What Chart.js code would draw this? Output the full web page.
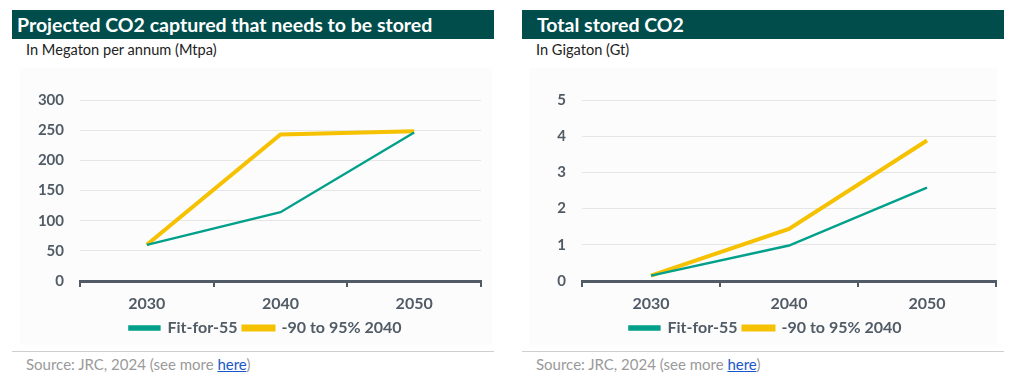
<!DOCTYPE html>
<html>
<head>
<meta charset="utf-8">
<script src="https://cdn.jsdelivr.net/npm/chart.js@4/dist/chart.umd.min.js"></script>
<style>
  html, body { margin: 0; padding: 0; background: #ffffff; width: 1019px; height: 383px; overflow: hidden; font-family: 'Lato', sans-serif; }
  .hdr { position: absolute; top: 10px; height: 29px; background: #004d4c; color: #fff; font-weight: 700; font-size: 19.5px; line-height: 29px; box-sizing: border-box; white-space: nowrap; }
  .sub { position: absolute; top: 41px; font-size: 14.6px; color: #222; white-space: nowrap; }
  .box { position: absolute; top: 68px; height: 277px; background: #fcfcfc; }
  .sep { position: absolute; top: 351px; height: 1px; background: #cfcfcf; }
  .src { position: absolute; top: 355px; font-size: 15px; color: #9a9a9a; white-space: nowrap; }
  .src a { color: #1a56c8; text-decoration: underline; }
</style>
</head>
<body>
<div class="hdr" style="left:12px;width:482px;padding-left:5px;">Projected CO2 captured that needs to be stored</div>
<div class="sub" style="left:26px;">In Megaton per annum (Mtpa)</div>
<div class="box" style="left:20px;width:472px;"><canvas id="c1"></canvas></div>
<div class="sep" style="left:12px;width:482px;"></div>
<div class="src" style="left:26px;">Source: JRC, 2024 (see more <a href="#">here</a>)</div>

<div class="hdr" style="left:522px;width:482px;padding-left:15px;">Total stored CO2</div>
<div class="sub" style="left:536px;">In Gigaton (Gt)</div>
<div class="box" style="left:529px;width:468px;"><canvas id="c2"></canvas></div>
<div class="sep" style="left:522px;width:482px;"></div>
<div class="src" style="left:536px;">Source: JRC, 2024 (see more <a href="#">here</a>)</div>

<script>
const years = ['2030', '2040', '2050'];
const seriesNames = ['Fit-for-55', '-90 to 95% 2040'];
const capturedFitFor55 = [60, 114, 246];
const captured90to95 = [60, 243, 248];
const storedFitFor55 = [0.15, 0.98, 2.58];
const stored90to95 = [0.15, 1.44, 3.88];
const capturedTicks = [0, 50, 100, 150, 200, 250, 300];
const storedTicks = [0, 1, 2, 3, 4, 5];

const TEAL = '#00a08b';
const YELLOW = '#f5c100';
const DARK = '#505b66';

function makeChart(id, a, b, max, tickVals, yWidth, padR, legendShift) {
  return new Chart(document.getElementById(id), {
    type: 'line',
    data: {
      labels: years,
      datasets: [
        { label: seriesNames[0], data: a, borderColor: TEAL, backgroundColor: TEAL, borderWidth: 2.4, pointRadius: 0, tension: 0 },
        { label: seriesNames[1], data: b, borderColor: YELLOW, backgroundColor: YELLOW, borderWidth: 4, pointRadius: 0, tension: 0 }
      ]
    },
    plugins: [{
      id: 'legendShift',
      afterLayout(chart) {
        chart.legend.left += legendShift;
        chart.legend.right += legendShift;
        chart.legend.top += 1;
        chart.legend.bottom += 1;
      }
    }],
    options: {
      responsive: true,
      maintainAspectRatio: false,
      animation: false,
      layout: { padding: { top: 32, left: 0, right: padR, bottom: 0 } },
      plugins: {
        tooltip: { enabled: false },
        legend: {
          position: 'bottom',
          labels: {
            font: { family: 'Lato', size: 16, weight: '700' },
            color: DARK,
            boxWidth: 30,
            boxHeight: 3,
            padding: 6
          }
        }
      },
      scales: {
        x: {
          offset: true,
          afterFit: (s) => { s.height = 32; },
          grid: { offset: true, drawOnChartArea: false, drawTicks: true, tickLength: 6, color: DARK, lineWidth: 2 },
          border: { display: true, color: DARK, width: 3 },
          ticks: { font: { family: 'Lato', size: 16, weight: '700', lineHeight: 0.5 }, color: DARK, padding: 13 }
        },
        y: {
          min: 0, max: max,
          afterBuildTicks: (s) => { s.ticks = tickVals.map(v => ({ value: v })); },
          afterFit: (s) => { s.width = yWidth; },
          grid: { color: '#e6e6e6', lineWidth: 1, drawTicks: false },
          border: { display: false },
          ticks: { font: { family: 'Lato', size: 15, weight: '700' }, color: DARK, padding: 16 }
        }
      }
    }
  });
}
makeChart('c1', capturedFitFor55, captured90to95, 300, capturedTicks, 60, 11, 15);
makeChart('c2', storedFitFor55, stored90to95, 5, storedTicks, 53, 1, 3);
</script>
</body>
</html>
